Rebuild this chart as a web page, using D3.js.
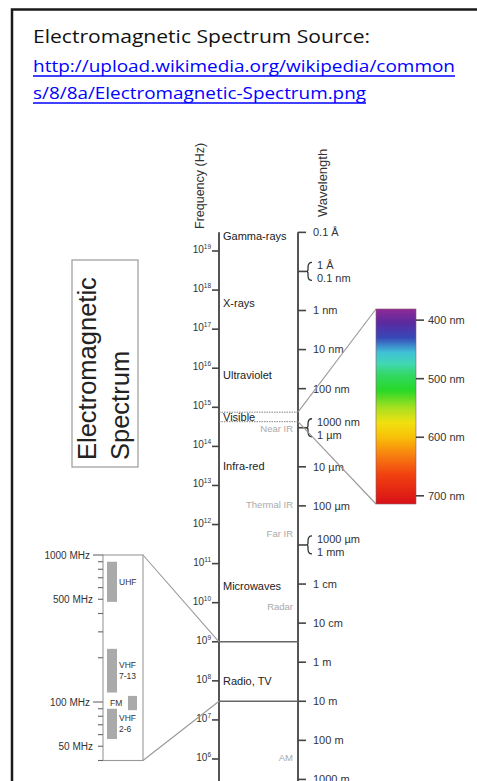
<!DOCTYPE html>
<html>
<head>
<meta charset="utf-8">
<script src="https://cdn.jsdelivr.net/npm/d3@7"></script>
<style>
  html, body { margin: 0; padding: 0; background: #fff; }
  svg { display: block; }
</style>
</head>
<body>
<svg id="chart"></svg>
<script>
// ---- data ----
const freqExponents = [19, 18, 17, 16, 15, 14, 13, 12, 11, 10, 9, 8, 7, 6];

const bandNames = ["Gamma-rays", "X-rays", "Ultraviolet", "Visible", "Infra-red", "Microwaves", "Radio, TV"];
const bandFreqs = [2.4e19, 4.7e17, 6.8e15, 5.6e14, 3.2e13, 2.7e10, 1e8];

const subNames = ["Near IR", "Thermal IR", "Far IR", "Radar", "AM"];
const subFreqs = [2.9e14, 3.2e12, 5.8e11, 7.8e9, 1.07e6];

const waveMeters = [1e-11, 1e-10, 1e-9, 1e-8, 1e-7, 1e-6, 1e-5, 1e-4, 1e-3, 1e-2, 1e-1, 1, 10, 100, 1000];
const waveLabels = [
  ["0.1 Å"], ["1 Å", "0.1 nm"], ["1 nm"], ["10 nm"], ["100 nm"], ["1000 nm", "1 µm"],
  ["10 µm"], ["100 µm"], ["1000 µm", "1 mm"], ["1 cm"], ["10 cm"], ["1 m"], ["10 m"], ["100 m"], ["1000 m"]
];

const visibleNm = [400, 700];
const spectrumNmDomain = [381, 714];
const spectrumStopsNm = [381, 405, 430, 455, 475, 495, 520, 550, 575, 600, 630, 665, 714];
const spectrumColors = ["#8e2a96", "#5a2aa0", "#3848b8", "#40c0d8", "#40d8b0", "#30d860", "#28d828",
  "#a8e020", "#f0e010", "#f8c008", "#f88010", "#f04010", "#d81018"];
const spectrumTicksNm = [400, 500, 600, 700];

const radioRangeHz = [1e9, 3e7];
const insetMHz = [1000, 40];
const insetLabelMHz = [1000, 500, 100, 50];
const insetBandNames = [["UHF"], ["VHF", "7-13"], ["FM"], ["VHF", "2-6"]];
const insetBandLow = [480, 116, 88, 56];
const insetBandHigh = [900, 230, 110, 90];

const C = 3e8;

// ---- drawing ----
const W = 477, H = 781;
const svg = d3.select("#chart")
  .attr("width", W).attr("height", H)
  .attr("viewBox", [0, 0, W, H])
  .style("font-family", "'Liberation Sans', Arial, sans-serif");

// page frame and caption
svg.append("path")
  .attr("d", `M12,${H} V9.5 H${W}`)
  .attr("fill", "none").attr("stroke", "#1a1a1a").attr("stroke-width", 2.5);

svg.append("text")
  .attr("x", 33).attr("y", 43)
  .attr("font-family", "'Open Sans', 'Noto Sans', sans-serif").attr("font-size", 19)
  .attr("textLength", 337).attr("lengthAdjust", "spacingAndGlyphs")
  .attr("fill", "#111")
  .text("Electromagnetic Spectrum Source:");

const linkLines = ["http://upload.wikimedia.org/wikipedia/common", "s/8/8a/Electromagnetic-Spectrum.png"];
const linkWidths = [422, 333];
linkLines.forEach((t, i) => {
  const by = 72 + i * 27;
  svg.append("text")
    .attr("x", 33).attr("y", by)
    .attr("font-family", "'Open Sans', 'Noto Sans', sans-serif").attr("font-size", 17)
    .attr("textLength", linkWidths[i]).attr("lengthAdjust", "spacingAndGlyphs")
    .attr("fill", "#0000ff")
    .text(t);
  svg.append("line")
    .attr("x1", 33).attr("x2", 33 + linkWidths[i])
    .attr("y1", by + 4).attr("y2", by + 4)
    .attr("stroke", "#0000ff").attr("stroke-width", 1.3);
});

// main scale: frequency (Hz) to y, wavelength uses f = c / lambda
const y = d3.scaleLog().domain([1e19, 1e6]).range([251, 759]);
const xFreq = 219, xWave = 298;
const yTop = y(C / waveMeters[0]);

// left title box
svg.append("rect")
  .attr("x", 72).attr("y", 260).attr("width", 66).attr("height", 207)
  .attr("fill", "none").attr("stroke", "#9a9a9a").attr("stroke-width", 1.2);
["Electromagnetic", "Spectrum"].forEach((t, i) => {
  svg.append("text")
    .attr("transform", `translate(${96 + i * 33},460) rotate(-90)`)
    .attr("font-size", 25.5).attr("fill", "#222")
    .text(t);
});

// axis titles
svg.append("text")
  .attr("transform", `translate(204,229) rotate(-90)`)
  .attr("font-size", 12.5).attr("fill", "#333")
  .text("Frequency (Hz)");
svg.append("text")
  .attr("transform", `translate(327,217) rotate(-90)`)
  .attr("font-size", 13).attr("fill", "#333")
  .text("Wavelength");

// axis lines
svg.append("line")
  .attr("x1", xFreq).attr("x2", xFreq).attr("y1", yTop).attr("y2", H)
  .attr("stroke", "#555").attr("stroke-width", 2);
svg.append("line")
  .attr("x1", xWave).attr("x2", xWave).attr("y1", yTop).attr("y2", H)
  .attr("stroke", "#555").attr("stroke-width", 2);

// frequency ticks
const fTicks = svg.append("g").selectAll("g").data(freqExponents).join("g")
  .attr("transform", d => `translate(0,${y(Math.pow(10, d))})`);
fTicks.append("line")
  .attr("x1", xFreq - 7).attr("x2", xFreq)
  .attr("stroke", "#444").attr("stroke-width", 1.6);
const fLab = fTicks.append("text")
  .attr("x", 211).attr("y", 2)
  .attr("text-anchor", "end").attr("font-size", 10).attr("fill", "#333");
fLab.append("tspan").text("10");
fLab.append("tspan").attr("font-size", 6.5).attr("dy", -4).text(d => d);

// band labels
svg.append("g").selectAll("text").data(bandNames).join("text")
  .attr("x", xFreq + 4)
  .attr("y", (d, i) => y(bandFreqs[i]))
  .attr("dy", "0.35em")
  .attr("font-size", 11).attr("fill", "#222")
  .text(d => d);

svg.append("g").selectAll("text").data(subNames).join("text")
  .attr("x", xWave - 5)
  .attr("y", (d, i) => y(subFreqs[i]))
  .attr("dy", "0.35em").attr("text-anchor", "end")
  .attr("font-size", 9.5).attr("fill", "#aaa")
  .text(d => d);

// radio range horizontal lines
svg.append("g").selectAll("line").data(radioRangeHz).join("line")
  .attr("x1", xFreq).attr("x2", xWave)
  .attr("y1", d => y(d)).attr("y2", d => y(d))
  .attr("stroke", "#666").attr("stroke-width", 1.5);

// visible dotted lines
svg.append("g").selectAll("line").data(visibleNm).join("line")
  .attr("x1", xFreq).attr("x2", xWave)
  .attr("y1", d => y(C / (d * 1e-9))).attr("y2", d => y(C / (d * 1e-9)))
  .attr("stroke", "#777").attr("stroke-width", 0.9).attr("stroke-dasharray", "1.5,1");

// wavelength ticks
const wTicks = svg.append("g").selectAll("g").data(waveMeters).join("g")
  .attr("transform", d => `translate(0,${y(C / d)})`);
wTicks.append("line")
  .attr("x1", xWave).attr("x2", xWave + 8)
  .attr("stroke", "#444").attr("stroke-width", 1.6);
wTicks.each(function (d, i) {
  const g = d3.select(this);
  const labs = waveLabels[i];
  if (labs.length === 2) {
    const x0 = xWave + 8;
    g.append("path")
      .attr("d", `M${x0 + 6},-9 Q${x0 + 2},-9 ${x0 + 2},-4 L${x0 + 2},-2 Q${x0 + 2},0 ${x0},0 Q${x0 + 2},0 ${x0 + 2},2 L${x0 + 2},4 Q${x0 + 2},9 ${x0 + 6},9`)
      .attr("fill", "none").attr("stroke", "#333").attr("stroke-width", 1.3);
    labs.forEach((t, j) => {
      g.append("text")
        .attr("x", xWave + 19).attr("y", j === 0 ? -6 : 7)
        .attr("dy", "0.35em").attr("font-size", 11).attr("fill", "#333")
        .text(t);
    });
  } else {
    g.append("text")
      .attr("x", xWave + 15).attr("dy", "0.35em")
      .attr("font-size", 11).attr("fill", "#333")
      .text(labs[0]);
  }
});

// visible spectrum bar
const ySpec = d3.scaleLinear().domain(spectrumNmDomain).range([309, 504]);
const barX = 376, barW = 40;
const grad = svg.append("defs").append("linearGradient")
  .attr("id", "spec").attr("x1", 0).attr("x2", 0).attr("y1", 0).attr("y2", 1);
grad.selectAll("stop").data(spectrumStopsNm).join("stop")
  .attr("offset", d => (d - spectrumNmDomain[0]) / (spectrumNmDomain[1] - spectrumNmDomain[0]))
  .attr("stop-color", (d, i) => spectrumColors[i]);

// connectors from visible band to bar
svg.append("g").selectAll("line").data(visibleNm).join("line")
  .attr("x1", xWave).attr("y1", d => y(C / (d * 1e-9)))
  .attr("x2", barX).attr("y2", (d, i) => ySpec(spectrumNmDomain[i]))
  .attr("stroke", "#999").attr("stroke-width", 1.1);

svg.append("rect")
  .attr("x", barX).attr("y", ySpec(spectrumNmDomain[0]))
  .attr("width", barW).attr("height", ySpec(spectrumNmDomain[1]) - ySpec(spectrumNmDomain[0]))
  .attr("fill", "url(#spec)").attr("stroke", "#8a5a6a").attr("stroke-width", 0.6);

const sTicks = svg.append("g").selectAll("g").data(spectrumTicksNm).join("g")
  .attr("transform", d => `translate(0,${ySpec(d)})`);
sTicks.append("line")
  .attr("x1", barX + barW).attr("x2", barX + barW + 8)
  .attr("stroke", "#444").attr("stroke-width", 1.6);
sTicks.append("text")
  .attr("x", barX + barW + 12).attr("dy", "0.35em")
  .attr("font-size", 11).attr("fill", "#333")
  .text(d => `${d} nm`);

// radio inset (MHz)
const yIn = d3.scaleLog().domain(insetMHz).range([555, 760.5]);
const boxX = 103, boxW = 40;

svg.append("g").selectAll("line").data(radioRangeHz).join("line")
  .attr("x1", boxX + boxW).attr("y1", (d, i) => yIn(insetMHz[i]))
  .attr("x2", xFreq).attr("y2", d => y(d))
  .attr("stroke", "#999").attr("stroke-width", 1.1);

svg.append("rect")
  .attr("x", boxX).attr("y", yIn(insetMHz[0]))
  .attr("width", boxW).attr("height", yIn(insetMHz[1]) - yIn(insetMHz[0]))
  .attr("fill", "#fff").attr("stroke", "#999").attr("stroke-width", 1.1);

const inTicks = yIn.ticks().filter(d => d >= insetMHz[1] && d <= insetMHz[0]);
svg.append("g").selectAll("line").data(inTicks).join("line")
  .attr("x1", d => boxX - (Math.log10(d) % 1 === 0 ? 10 : 5)).attr("x2", boxX)
  .attr("y1", d => yIn(d)).attr("y2", d => yIn(d))
  .attr("stroke", "#666").attr("stroke-width", 1.1);

svg.append("g").selectAll("text").data(insetLabelMHz).join("text")
  .attr("x", d => Math.log10(d) % 1 === 0 ? 90 : 93)
  .attr("y", d => yIn(d)).attr("dy", "0.35em")
  .attr("text-anchor", "end").attr("font-size", 10).attr("fill", "#333")
  .text(d => `${d} MHz`);

// inset bands
const inBands = svg.append("g").selectAll("g").data(insetBandNames).join("g");
inBands.append("rect")
  .attr("x", (d, i) => d[0] === "FM" ? 128 : 107)
  .attr("width", (d, i) => d[0] === "FM" ? 9 : 10)
  .attr("y", (d, i) => yIn(insetBandHigh[i]))
  .attr("height", (d, i) => yIn(insetBandLow[i]) - yIn(insetBandHigh[i]))
  .attr("fill", "#aaa");
inBands.each(function (d, i) {
  const mid = (yIn(insetBandHigh[i]) + yIn(insetBandLow[i])) / 2;
  const x = d[0] === "FM" ? 110 : 119;
  d.forEach((t, j) => {
    d3.select(this).append("text")
      .attr("x", x).attr("y", mid + (j - (d.length - 1) / 2) * 11)
      .attr("dy", "0.35em").attr("font-size", 8.5).attr("fill", "#333")
      .text(t);
  });
});
</script>
</body>
</html>
